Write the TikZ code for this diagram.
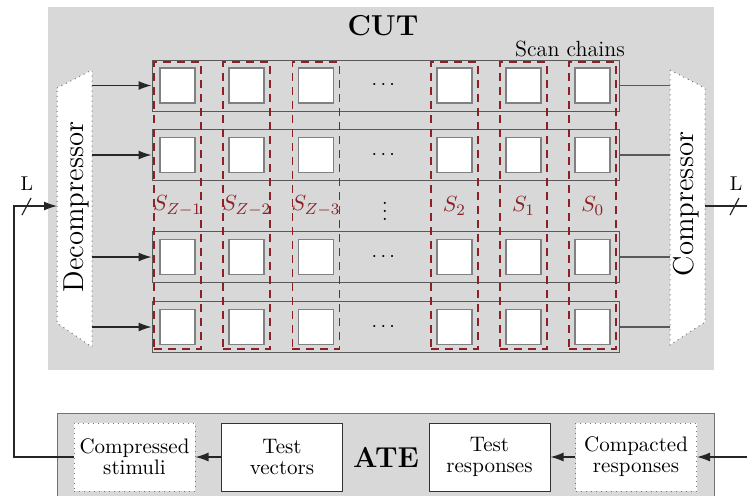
\documentclass[tikz,border=0pt]{standalone}
\usepackage{amsmath}
\usetikzlibrary{arrows.meta}
\definecolor{cutgray}{RGB}{216,216,216}
\definecolor{scanred}{RGB}{140,32,36}

\begin{document}
\begin{tikzpicture}[
    x=0.5pt, y=-0.5pt,
    font=\normalsize,
    area/.style={fill=cutgray, inner sep=0pt},
    chain/.style={draw=black!65, line width=0.5pt, fill=cutgray, minimum width=233.5pt, minimum height=25.5pt, inner sep=0pt},
    cell/.style={draw=black!50, line width=0.8pt, fill=white, minimum size=17.5pt, inner sep=0pt},
    slice/.style={draw=scanred, line width=0.9pt, dash pattern=on 4pt off 3pt, minimum width=23.5pt, minimum height=143.5pt, inner sep=0pt},
    slbl/.style={text=scanred, font=\fontsize{11}{13}\selectfont},
    gap/.style={inner sep=0pt},
    unit/.style={draw=black!55, dotted, line width=0.5pt, fill=white},
    atebox/.style={draw=black!80, line width=0.5pt, fill=white, align=center, minimum width=60.5pt, minimum height=34pt, inner sep=1pt, font=\fontsize{10.5}{10.5}\selectfont},
    dotbox/.style={atebox, draw=black!55, dotted},
    bus/.style={draw=black!85, line width=0.6pt},
    >={Latex[length=6.5pt,width=4.5pt]}]

    \useasboundingbox (0,0) rectangle (747,495);

    \node[area, minimum width=333pt, minimum height=181.5pt] (cut) at (381,188.5) {};
    \node[font=\Large\bfseries] (cutlbl) at (383,26) {CUT};

    \foreach \r/\yy in {1/85.5, 2/155, 3/257, 4/327} {
        \node[chain] (row\r) at (385.5,\yy) {};
        \foreach \c/\xx in {1/177.5, 2/246.7, 3/315.9, 5/454.3, 6/523.5, 7/592.7}
            \node[cell] (c\r\c) at (\xx,\yy) {};
        \node[gap] (dots\r) at (385,\yy) {$\cdots$};
    }
    \node[gap] (vdots) at (385,205) {$\vdots$};

    \foreach \c/\xx/\lab in {1/177.5/{S_{Z-1}}, 2/246.7/{S_{Z-2}}, 3/315.9/{S_{Z-3}}, 5/454.3/{S_2}, 6/523.5/{S_1}, 7/592.7/{S_0}} {
        \node[slice] (sl\c) at (\xx,205.5) {};
        \node[slbl] (s\c) at (\xx,206) {$\lab$};
    }
    \node[font=\fontsize{11}{13}\selectfont] (scanlbl) at (570,49) {Scan chains};

    \draw[unit] (57,88) -- (92,70) -- (92,347) -- (57,323) -- cycle;
    \node[rotate=90, font=\Large] (dec) at (76,207) {Decompressor};
    \draw[unit] (670,70) -- (705,88) -- (705,322) -- (670,345) -- cycle;
    \node[rotate=90, font=\Large] (cmp) at (686,204) {Compressor};

    \coordinate (decR) at (92,0);
    \coordinate (cmpL) at (670,0);
    \foreach \r in {1,...,4} {
        \draw[bus, ->] (row\r.west -| decR) -- (row\r.west);
        \draw[bus, draw=black!65] (row\r.east) -- (row\r.east -| cmpL);
    }

    \node[area, draw=black!55, line width=0.5pt, minimum width=328.5pt, minimum height=42pt] (ate) at (385.5,455) {};
    \node[dotbox] (stim) at (134.5,457) {Compressed\\stimuli};
    \node[atebox] (vec) at (282,457) {Test\\vectors};
    \node[font=\Large\bfseries] (atelbl) at (386,457) {ATE};
    \node[atebox] (resp) at (489.5,457) {Test\\responses};
    \node[dotbox] (cpt) at (636,457) {Compacted\\responses};

    \draw[bus, ->] (vec.west) -- (stim.east);
    \draw[bus, ->] (cpt.west) -- (resp.east);

    \coordinate (decin) at (57,206);
    \coordinate (loopL) at (14,457);
    \draw[bus, ->] (stim.west) -- (loopL) |- (decin);
    \draw[bus] (22,215) -- (31,198);
    \node (lin) at (27,184) {L};

    \coordinate (cmpout) at (705,206);
    \coordinate (outR) at (747,206);
    \draw[bus] (cmpout) -- (outR);
    \draw[bus] (730,215) -- (739,198);
    \node (lout) at (736,184) {L};

    \coordinate (inR) at (747,457);
    \draw[bus, ->] (inR) -- (cpt.east);
\end{tikzpicture}
\end{document}
